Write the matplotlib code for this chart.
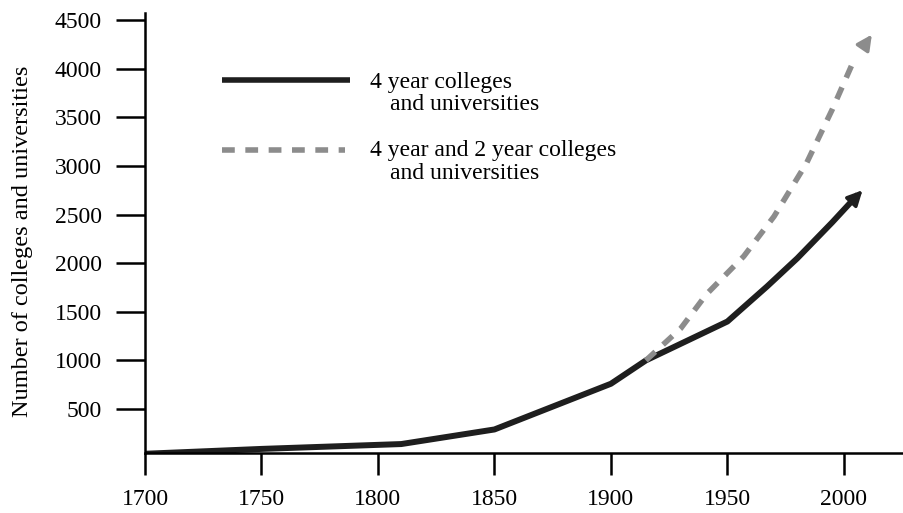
import matplotlib.pyplot as plt

plt.rcParams['font.family'] = ['Liberation Serif', 'DejaVu Serif']

# (years, number of institutions)
four_year_years = [1700, 1750, 1810, 1850, 1900, 1915, 1950, 1967, 1980, 1995, 2008]
four_year_counts = [40, 90, 140, 290, 760, 1000, 1400, 1760, 2050, 2420, 2750]

all_years = [1915, 1930, 1941, 1957, 1970, 1984, 1995, 2004, 2012]
all_counts = [1000, 1330, 1680, 2070, 2480, 3030, 3580, 4070, 4350]

y_ticks = [500, 1000, 1500, 2000, 2500, 3000, 3500, 4000, 4500]
x_ticks = [1700, 1750, 1800, 1850, 1900, 1950, 2000]

label_solid = ['4 year colleges', 'and universities']
label_dash = ['4 year and 2 year colleges', 'and universities']

solid_color = '#1e1e1e'
dash_color = '#8c8c8c'


def arrow_end(ax, xs, ys, color):
    # short arrow along the last segment, only the head shows past the line
    bx = xs[-1] - 0.25 * (xs[-1] - xs[-2])
    by = ys[-1] - 0.25 * (ys[-1] - ys[-2])
    ax.annotate('', xy=(xs[-1], ys[-1]), xytext=(bx, by),
                arrowprops=dict(arrowstyle='-|>,head_length=0.9,head_width=0.45',
                                color=color, lw=2.5, shrinkA=0, shrinkB=0))


def main():
    fig = plt.figure(figsize=(9.04, 5.13), dpi=100)
    ax = fig.add_axes([145 / 904, 60 / 513, 759 / 904, 440 / 513])

    ax.plot(four_year_years[:-1] + [four_year_years[-1] - 2],
            four_year_counts[:-1] + [four_year_counts[-1] - 45],
            color=solid_color, lw=4.3, solid_capstyle='butt')
    arrow_end(ax, four_year_years, four_year_counts, solid_color)

    ax.plot(all_years[:-1], all_counts[:-1], color=dash_color, lw=4,
            dashes=[2.3, 1.9])
    arrow_end(ax, all_years, all_counts, dash_color)

    ax.set_xlim(1700, 2025.8)
    ax.set_ylim(48, 4572)
    ax.set_xticks(x_ticks)
    ax.set_yticks(y_ticks)
    ax.tick_params(axis='x', length=16, width=1.8, pad=10, labelsize=17)
    ax.tick_params(axis='y', length=21, width=1.8, pad=10, labelsize=17)
    for side in ['top', 'right']:
        ax.spines[side].set_visible(False)
    for side in ['left', 'bottom']:
        ax.spines[side].set_linewidth(1.8)

    ax.set_ylabel('Number of colleges and universities', fontsize=17.5)
    ax.yaxis.set_label_coords(-112 / 759, 0.48)

    # legend drawn by hand so the key sits on the first text line
    ax.plot([0.1014, 0.270], [0.848, 0.848], transform=ax.transAxes,
            color=solid_color, lw=4, solid_capstyle='butt')
    ax.plot([0.1014, 0.2635], [0.689, 0.689], transform=ax.transAxes,
            color=dash_color, lw=4, dashes=[2.3, 1.9])
    ax.text(0.2964, 0.843, label_solid[0], transform=ax.transAxes, fontsize=17, va='center')
    ax.text(0.3228, 0.791, label_solid[1], transform=ax.transAxes, fontsize=17, va='center')
    ax.text(0.2964, 0.6886, label_dash[0], transform=ax.transAxes, fontsize=17, va='center')
    ax.text(0.3228, 0.636, label_dash[1], transform=ax.transAxes, fontsize=17, va='center')

    fig.savefig('out.png', dpi=100)


if __name__ == "__main__":
    main()
